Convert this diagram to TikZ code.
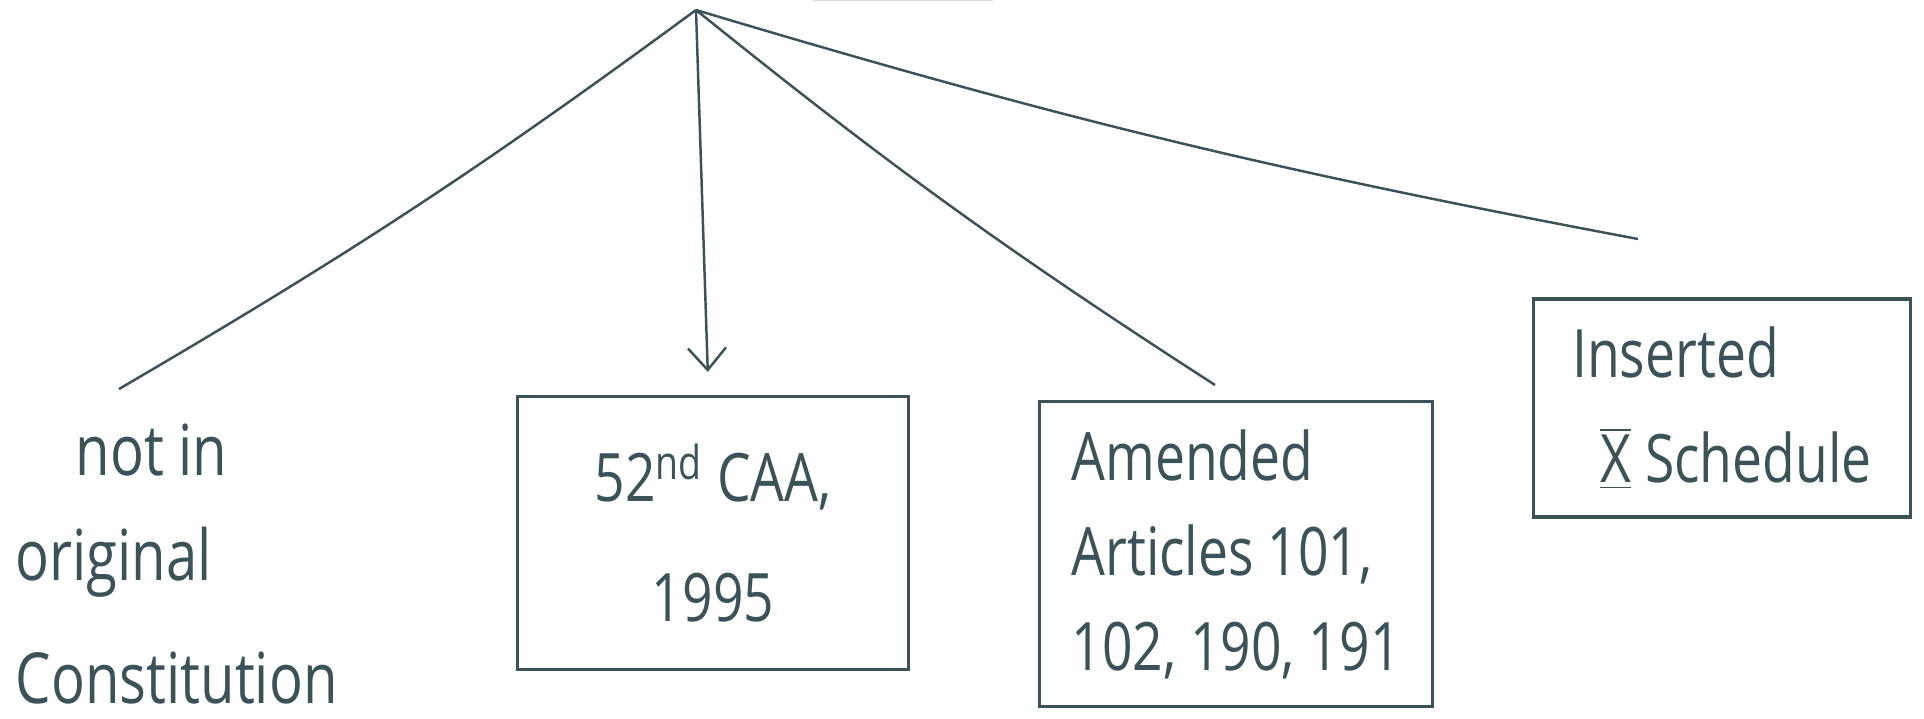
\documentclass[tikz,border=0pt]{standalone}
\usepackage{fontspec}
\setmainfont{Open Sans}[FakeStretch=0.8]
\usetikzlibrary{arrows.meta}
\definecolor{Ink}{RGB}{58,82,88}

\begin{document}
\begin{tikzpicture}[x=0.01cm,y=-0.01cm,
    every node/.style={text=Ink,font=\fontsize{19}{30}\selectfont},
    card/.style={draw=Ink,line width=0.9pt,inner sep=0pt},
    branch/.style={draw=Ink,line width=0.7pt}]
  \useasboundingbox (0,0) rectangle (1924,718);

  \coordinate (top) at (696,10);
  \coordinate (origend) at (119,389);
  \coordinate (amendend) at (1215,385);
  \coordinate (schedend) at (1638,239);
  \coordinate (capa) at (813,0.5);
  \coordinate (capb) at (993,0.5);

  \node (orig) [align=left,anchor=north west,inner sep=0pt,font=\fontsize{20}{30}\selectfont] at (15,423) {\hspace{17pt}not in\\original\\[5pt]Constitution};
  \node (caa) [card,align=center,minimum width=3.9cm,minimum height=2.73cm] at (713,533) {52\textsuperscript{nd} CAA,\\[4pt]1995};
  \node (amend) [card,align=left,minimum width=3.93cm,minimum height=3.05cm] at (1236,554) {Amended\\[-3pt]Articles 101,\\[-3pt]102, 190, 191};
  \node (sched) [card,align=left,minimum width=3.76cm,minimum height=2.18cm] at (1722,408) {Inserted\\\hspace{8pt}$\overline{\underline{\hbox{X}}}$ Schedule\hspace{-12pt}};

  \draw[branch] (top) to[bend left=3] (origend);
  \draw[branch,-{Straight Barb[length=2.2mm,width=3.8mm]},shorten >=2.3mm] (top) -- (caa);
  \draw[branch] (top) to[bend right=3] (amendend);
  \draw[branch] (top) to[bend right=3] (schedend);
  \draw[Ink!20,line width=0.4pt] (capa) -- (capb);
\end{tikzpicture}
\end{document}
